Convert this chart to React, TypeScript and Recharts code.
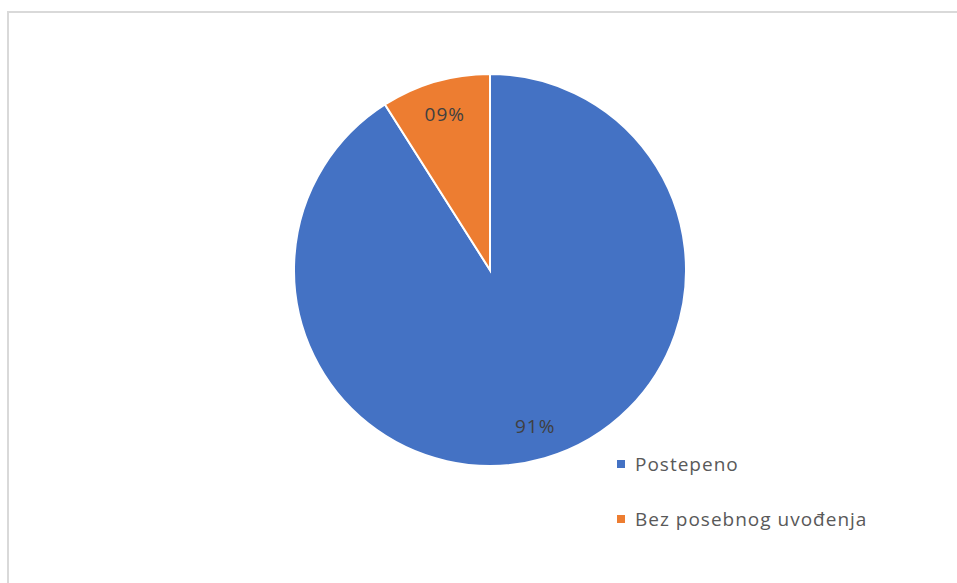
import React from 'react'
import { PieChart, Pie, Cell } from 'recharts'

const categories = ['Postepeno', 'Bez posebnog uvođenja']
const values = [91, 9]
const labels = ['91%', '09%']
const colors = ['#4472C4', '#ED7D31']

const data = categories.map((name, i) => ({ name, value: values[i], label: labels[i] }))

const RADIAN = Math.PI / 180

const renderLabel = (props: any) => {
  const { cx, cy, midAngle, index } = props
  const r = 162
  const x = cx + r * Math.cos(-midAngle * RADIAN)
  const y = cy + r * Math.sin(-midAngle * RADIAN)
  return (
    <text
      x={x}
      y={y}
      fill='#404040'
      fontSize={19}
      letterSpacing={1}
      fontFamily='Open Sans, sans-serif'
      textAnchor='middle'
      dominantBaseline='central'
    >
      {data[index].label}
    </text>
  )
}

export default function App() {
  return (
    <div style={{ position: 'absolute', left: 0, top: 0, width: 957, height: 583, background: '#fff' }}>
      <div
        style={{
          position: 'absolute',
          left: 7,
          top: 11,
          width: 960,
          height: 580,
          borderTop: '2px solid #d9d9d9',
          borderLeft: '2px solid #d9d9d9',
        }}
      />
      <PieChart
        width={957}
        height={583}
        margin={{ top: 0, right: 0, bottom: 0, left: 0 }}
        style={{ position: 'absolute', left: 0, top: 0 }}
      >
        <Pie
          data={data}
          dataKey='value'
          nameKey='name'
          cx={490}
          cy={270}
          outerRadius={196}
          startAngle={90}
          endAngle={-270}
          stroke='#fff'
          strokeWidth={2}
          label={renderLabel}
          labelLine={false}
          isAnimationActive={false}
        >
          {data.map((d, i) => (
            <Cell key={d.name} fill={colors[i]} />
          ))}
        </Pie>
      </PieChart>
      <div
        style={{
          position: 'absolute',
          left: 617,
          top: 450,
          fontFamily: 'Open Sans, sans-serif',
          fontSize: 19,
          letterSpacing: 1,
          color: '#595959',
        }}
      >
        {data.map((d, i) => (
          <div key={d.name} style={{ display: 'flex', alignItems: 'center', height: 28, marginBottom: 27 }}>
            <span style={{ width: 8, height: 8, background: colors[i], display: 'inline-block', marginRight: 10 }} />
            <span>{d.name}</span>
          </div>
        ))}
      </div>
    </div>
  )
}
